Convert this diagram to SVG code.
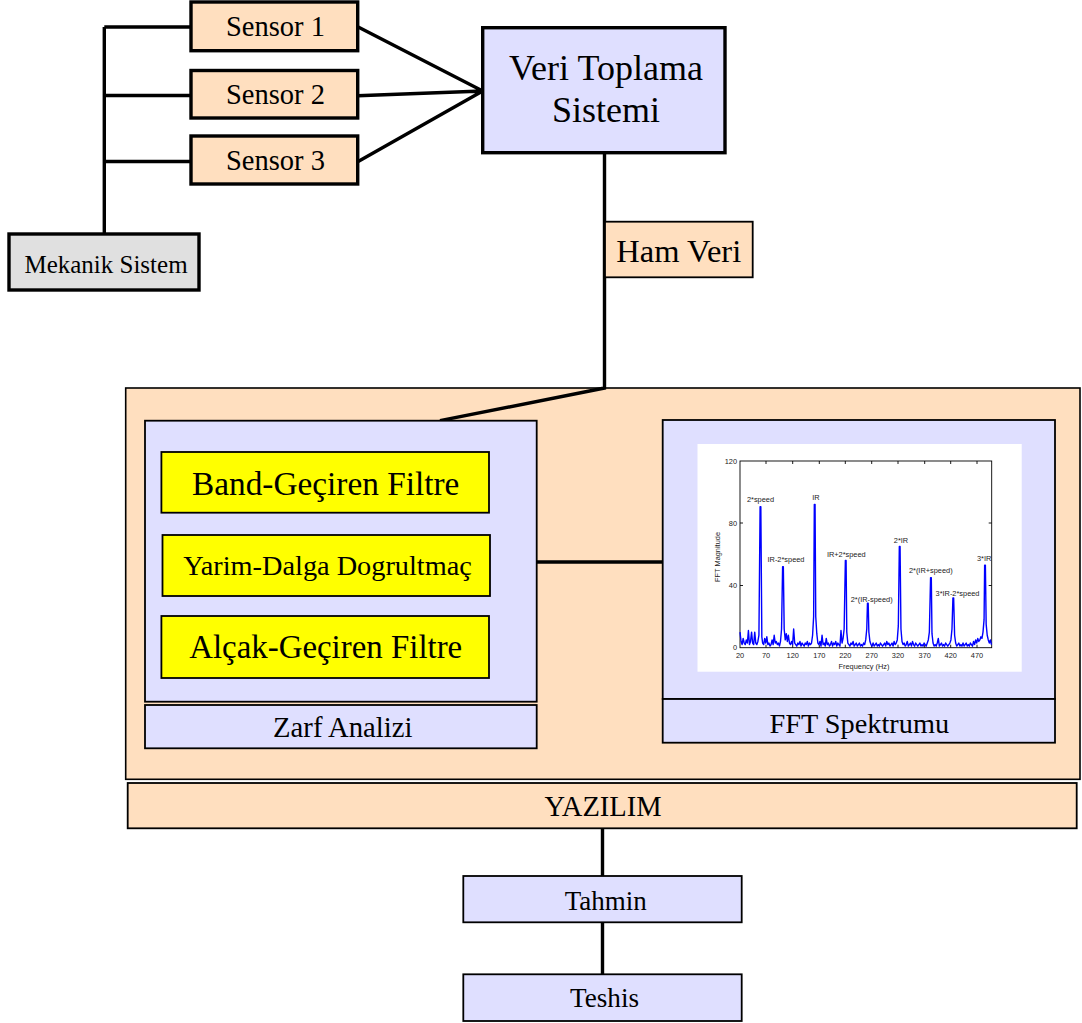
<svg xmlns="http://www.w3.org/2000/svg" width="1082" height="1023" viewBox="0 0 1082 1023">
  <style>
    .t { font-family: "Liberation Serif", "Times New Roman", serif; fill: #000; text-anchor: middle; }
    .peach { fill: #ffdfbf; }
    .lav { fill: #dfdfff; }
    .yel { fill: #ffff00; stroke: #000; stroke-width: 1.8; }
    .thick { stroke: #000; stroke-width: 3.4; }
    .thin { stroke: #000; stroke-width: 1.8; }
    .wire { stroke: #000; stroke-width: 3.4; fill: none; stroke-linejoin: miter; }
    .pl { font-family: "Liberation Sans", Arial, sans-serif; font-size: 7.4px; fill: #222; }
    .tick { font-family: "Liberation Sans", Arial, sans-serif; font-size: 7.4px; fill: #222; }
  </style>

  <rect width="1082" height="1023" fill="#fff"/>

  <!-- software container -->
  <g id="yazilim-panel">
    <rect class="peach" x="125.7" y="388" width="954.3" height="391.3" stroke="#000" stroke-width="1.6"/>
  </g>

  <!-- connectors -->
  <g id="connectors">
    <path class="wire" d="M104.3 27 V234 M104.3 27 H191 M104.3 95.5 H191 M104.3 161.5 H191"/>
    <path class="wire" d="M357.7 26.7 L482.7 91 M357.7 95.7 L482.7 91 M357.7 161.7 L482.7 91"/>
    <path class="wire" d="M604.5 152.7 V388 L440 420.7"/>
    <path class="wire" d="M537 562 H663"/>
    <path class="wire" d="M602.5 828.3 V876 M602.5 922.3 V974.3"/>
  </g>

  <g id="mekanik">
    <rect x="9" y="234" width="190" height="56" fill="#e0e0e0" class="thick"/>
    <text class="t" x="106" y="272.7" font-size="25">Mekanik Sistem</text>
  </g>

  <g id="sensor1">
    <rect class="peach thick" x="191" y="2" width="166.7" height="48.7"/>
    <text class="t" x="275.5" y="36" font-size="28.5">Sensor 1</text>
  </g>
  <g id="sensor2">
    <rect class="peach thick" x="191" y="70.5" width="166.7" height="47.5"/>
    <text class="t" x="275.5" y="104.3" font-size="28.5">Sensor 2</text>
  </g>
  <g id="sensor3">
    <rect class="peach thick" x="191" y="136" width="166.7" height="48"/>
    <text class="t" x="275.5" y="170" font-size="28.5">Sensor 3</text>
  </g>

  <g id="veri-toplama">
    <rect class="lav thick" x="482.7" y="27.7" width="242.3" height="125"/>
    <text class="t" x="606" y="80" font-size="36">Veri Toplama</text>
    <text class="t" x="606" y="121.7" font-size="36">Sistemi</text>
  </g>

  <g id="ham-veri">
    <rect class="peach thin" x="605" y="221.7" width="147.7" height="55.6"/>
    <text class="t" x="678.8" y="261.7" font-size="32.5">Ham Veri</text>
  </g>

  <!-- envelope analysis -->
  <g id="zarf-analizi">
    <rect class="lav thin" x="145" y="420.7" width="391.7" height="281"/>
    <rect class="lav thin" x="145" y="705" width="391.7" height="43.3"/>
    <text class="t" x="342.8" y="736.7" font-size="28.7">Zarf Analizi</text>
  </g>
  <g id="band-geciren">
    <rect class="yel" x="161.4" y="452" width="327.6" height="60.7"/>
    <text class="t" x="325.7" y="495" font-size="33.3">Band-Geçiren Filtre</text>
  </g>
  <g id="yarim-dalga">
    <rect class="yel" x="162.5" y="535" width="327.5" height="61"/>
    <text class="t" x="327.5" y="575" font-size="28.3">Yarim-Dalga Dogrultmaç</text>
  </g>
  <g id="alcak-geciren">
    <rect class="yel" x="161.4" y="616" width="327.6" height="62"/>
    <text class="t" x="325.7" y="658.3" font-size="32.9">Alçak-Geçiren Filtre</text>
  </g>

  <!-- spectrum panel -->
  <g id="fft-spektrumu">
    <rect class="lav thin" x="662.7" y="420" width="392.3" height="279"/>
    <rect class="lav thin" x="662.7" y="699" width="392.3" height="43.7"/>
    <text class="t" x="859.3" y="732.7" font-size="28.3">FFT Spektrumu</text>

    <rect x="697.5" y="444" width="324.2" height="227.7" fill="#fff"/>
    <!-- axes box -->
    <rect x="740" y="461" width="251.7" height="186.7" fill="none" stroke="#000" stroke-width="0.9"/>
    <path stroke="#000" stroke-width="0.9" fill="none"
      d="M766 461v3 M792.7 461v3 M819.3 461v3 M845.3 461v3 M871.7 461v3 M898 461v3 M924.7 461v3 M950.7 461v3 M977 461v3
         M766 647.7v-3 M792.7 647.7v-3 M819.3 647.7v-3 M845.3 647.7v-3 M871.7 647.7v-3 M898 647.7v-3 M924.7 647.7v-3 M950.7 647.7v-3 M977 647.7v-3
         M740 523h3 M740 585.5h3 M991.7 523h-3 M991.7 585.5h-3"/>
    <!-- spectrum trace (x: Hz above 20, y: magnitude) -->
    <path fill="none" stroke="#0000ff" stroke-width="1.4" vector-effect="non-scaling-stroke" stroke-linejoin="round"
      transform="translate(740 647.7) scale(0.526 -1.558)"
      d="M0 10 L2 4 4 2 6 6 8 3 10 2 12 5 14 3 16 11 18 2 20 4 22 10 24 3 26 2 28 10 30 3 32 2 34 4 36 8 38.2 90.5 39.6 90.5 41.5 7 43 3 45 2 47 6 49 3 51 7 53 2 55 3 57 1 59 2 61 5 63 2 65 8 67 3 69 4 71 2 73 3 75 1 77 4 79 12 81 52 82.4 52 84 12 86 5 88 9 90 4 92 8 94 3 96 2 98 4 100 2 102 12 104 3 106 2 108 1 110 3 112 2 114 4 116 1 118 3 120 2 122 1 124 3 126 2 128 4 130 1 132 3 134 2 136 3 138 8 140 20 141.3 92 142.7 92 144 20 146 9 148 3 150 2 152 4 154 1 156 8 158 2 160 3 162 1 164 6 166 2 168 3 170 1 172 2 174 4 176 1 178 3 180 2 182 4 184 1 186 3 188 2 190 1 192 11 194 3 196 6 198 12 200.3 56 201.7 56 203 10 205 3 207 2 209 1 211 3 213 2 215 4 217 1 219 2 221 3 223 1 225 2 227 3 229 1 231 2 233 1 235 3 237 2 239 5 241 12 242.3 28.5 243.7 28.5 245 10 247 4 249 2 251 1 253 3 255 1 257 2 259 3 261 1 263 2 265 1 267 3 269 2 271 1 273 2 275 3 277 1 279 4 281 2 283 3 285 1 287 2 289 3 291 1 293 4 295 2 297 3 299 5 301 14 302.9 65 304.3 65 306 12 308 4 310 2 312 3 314 1 316 2 318 4 320 1 322 2 324 3 326 1 328 4 330 2 332 1 334 3 336 2 338 1 340 2 342 3 344 1 346 2 348 1 350 3 352 2 354 1 356 3 358 5 360 10 362.3 45 363.7 45 365 9 367 3 369 1 371 2 373 1 375 3 377 6 379 1 381 2 383 3 385 1 387 2 389 1 391 3 393 2 395 1 397 2 399 3 401 5 403 12 404.8 32 406.2 32 408 8 410 3 412 1 414 2 416 3 418 1 420 2 422 1 424 3 426 1 428 2 430 3 432 1 434 2 436 1 438 3 440 2 442 1 444 4 446 2 448 5 450 3 452 6 454 4 456 5 458 7 460 6 462 10 464 18 465.1 53 466.5 53 468 15 470 8 472 5 474 3 476 5 478 2"/>
    <!-- axis labels -->
    <g class="tick" text-anchor="end">
      <text x="737" y="463.5">120</text>
      <text x="737" y="525.5">80</text>
      <text x="737" y="588">40</text>
      <text x="737" y="650">0</text>
    </g>
    <g class="tick" text-anchor="middle">
      <text x="740" y="657.5">20</text>
      <text x="766" y="657.5">70</text>
      <text x="792.7" y="657.5">120</text>
      <text x="819.3" y="657.5">170</text>
      <text x="845.3" y="657.5">220</text>
      <text x="871.7" y="657.5">270</text>
      <text x="898" y="657.5">320</text>
      <text x="924.7" y="657.5">370</text>
      <text x="950.7" y="657.5">420</text>
      <text x="977" y="657.5">470</text>
      <text x="864" y="669">Frequency (Hz)</text>
      <text transform="translate(720 557) rotate(-90)">FFT Magnitude</text>
    </g>
    <g class="pl" text-anchor="middle">
      <text x="760.5" y="502">2*speed</text>
      <text x="816" y="500">IR</text>
      <text x="786" y="561.7">IR-2*speed</text>
      <text x="846.3" y="556.7">IR+2*speed</text>
      <text x="871.7" y="602">2*(IR-speed)</text>
      <text x="901" y="543.3">2*IR</text>
      <text x="930.8" y="572.7">2*(IR+speed)</text>
      <text x="957.5" y="595.7">3*IR-2*speed</text>
      <text x="984.2" y="560.7">3*IR</text>
    </g>
  </g>

  <g id="yazilim">
    <rect class="peach thin" x="127.7" y="783" width="949" height="45.3"/>
    <text class="t" x="603" y="816" font-size="28.5">YAZILIM</text>
  </g>

  <g id="tahmin">
    <rect class="lav thin" x="463.3" y="876" width="278.4" height="46.3"/>
    <text class="t" x="605.7" y="910" font-size="27">Tahmin</text>
  </g>
  <g id="teshis">
    <rect class="lav thin" x="463.3" y="974.3" width="278.4" height="46.7"/>
    <text class="t" x="604.5" y="1006.7" font-size="27.2">Teshis</text>
  </g>
</svg>
